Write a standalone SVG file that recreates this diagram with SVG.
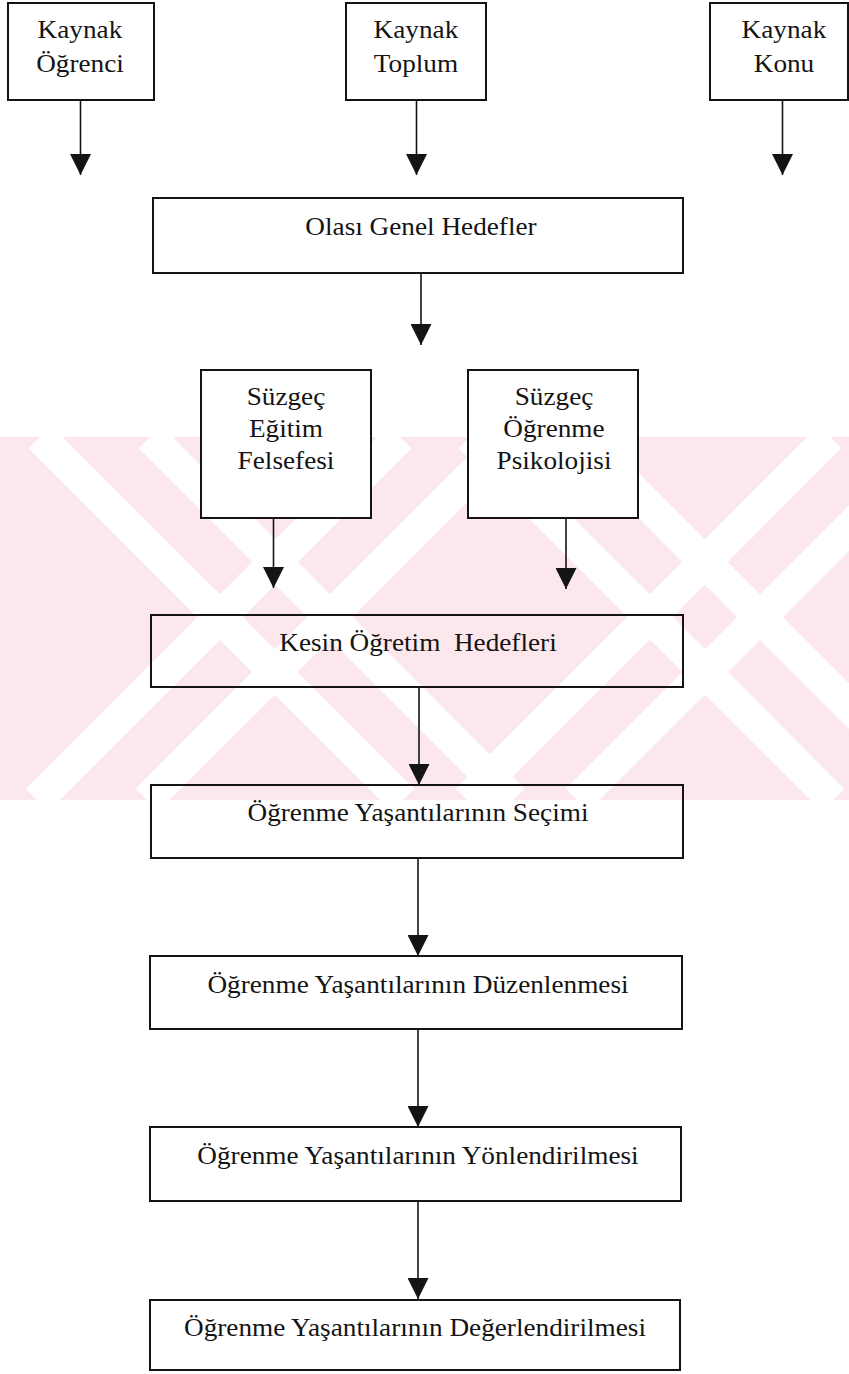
<svg xmlns="http://www.w3.org/2000/svg" width="849" height="1374" viewBox="0 0 849 1374">
  <style>
    .box { fill: none; stroke: #141414; stroke-width: 2; }
    .box.solid { fill: #ffffff; }
    .lbl { font-family: "Liberation Serif", "Times New Roman", serif; font-size: 25px; fill: #141414; text-anchor: middle; white-space: pre; transform: scaleX(1.09); transform-box: fill-box; transform-origin: center; }
    .edge { stroke: #141414; stroke-width: 1.6; fill: none; marker-end: url(#ah); }
    .wm { fill: #fce8ec; }
    .gap { stroke: #ffffff; stroke-width: 32; fill: none; }
  </style>
  <defs>
    <marker id="ah" viewBox="0 0 21 21" markerWidth="21" markerHeight="21" refX="21" refY="10.5" orient="auto" markerUnits="userSpaceOnUse">
      <path d="M0,0 L21,10.5 L0,21 Z" fill="#141414"/>
    </marker>
    <clipPath id="band">
      <rect x="0" y="437" width="849" height="363"/>
    </clipPath>
  </defs>

  <rect width="849" height="1374" fill="#ffffff"/>

  <!-- faint background mark: pink band crossed by white diagonal gaps -->
  <g id="backdrop" clip-path="url(#band)">
    <rect class="wm" x="0" y="437" width="849" height="363"/>
    <path class="gap" d="M40,437 L403,800 M150,437 L513,800 M400,437 L37,800 M510,437 L147,800 M470,437 L833,800 M580,437 L943,800 M830,437 L467,800 M940,437 L577,800"/>
  </g>

  <g id="connectors">
    <line class="edge" x1="80.5" y1="100" x2="80.5" y2="175"/>
    <line class="edge" x1="416.5" y1="100" x2="416.5" y2="175"/>
    <line class="edge" x1="782.5" y1="100" x2="782.5" y2="175"/>
    <line class="edge" x1="421" y1="273" x2="421" y2="345"/>
    <line class="edge" x1="273.5" y1="518" x2="273.5" y2="588"/>
    <line class="edge" x1="566" y1="518" x2="566" y2="589"/>
    <line class="edge" x1="419" y1="687" x2="419" y2="785"/>
    <line class="edge" x1="418" y1="858" x2="418" y2="956"/>
    <line class="edge" x1="418" y1="1029" x2="418" y2="1127"/>
    <line class="edge" x1="418" y1="1201" x2="418" y2="1299"/>
  </g>

  <g id="kaynak-ogrenci">
    <rect class="box" x="8" y="3" width="146" height="97"/>
    <text class="lbl" x="80" y="38">Kaynak</text>
    <text class="lbl" x="80" y="72">Öğrenci</text>
  </g>
  <g id="kaynak-toplum">
    <rect class="box" x="346" y="3" width="140" height="97"/>
    <text class="lbl" x="416" y="38">Kaynak</text>
    <text class="lbl" x="416" y="72">Toplum</text>
  </g>
  <g id="kaynak-konu">
    <rect class="box" x="710" y="3" width="138" height="97"/>
    <text class="lbl" x="784" y="38">Kaynak</text>
    <text class="lbl" x="784" y="72">Konu</text>
  </g>

  <g id="olasi-genel-hedefler">
    <rect class="box" x="153" y="198" width="530" height="75"/>
    <text class="lbl" x="421" y="235">Olası Genel Hedefler</text>
  </g>

  <g id="suzgec-egitim-felsefesi">
    <rect class="box solid" x="201" y="370" width="170" height="148"/>
    <text class="lbl" x="286" y="405">Süzgeç</text>
    <text class="lbl" x="286" y="437">Eğitim</text>
    <text class="lbl" x="286" y="469">Felsefesi</text>
  </g>
  <g id="suzgec-ogrenme-psikolojisi">
    <rect class="box solid" x="468" y="370" width="170" height="148"/>
    <text class="lbl" x="554" y="405">Süzgeç</text>
    <text class="lbl" x="554" y="437">Öğrenme</text>
    <text class="lbl" x="554" y="469">Psikolojisi</text>
  </g>

  <g id="kesin-ogretim-hedefleri">
    <rect class="box" x="151" y="615" width="532" height="72"/>
    <text class="lbl" x="418" y="651">Kesin Öğretim  Hedefleri</text>
  </g>

  <g id="yasantilarin-secimi">
    <rect class="box" x="151" y="785" width="532" height="73"/>
    <text class="lbl" x="418" y="821">Öğrenme Yaşantılarının Seçimi</text>
  </g>

  <g id="yasantilarin-duzenlenmesi">
    <rect class="box" x="150" y="956" width="532" height="73"/>
    <text class="lbl" x="418" y="993">Öğrenme Yaşantılarının Düzenlenmesi</text>
  </g>

  <g id="yasantilarin-yonlendirilmesi">
    <rect class="box" x="150" y="1127" width="531" height="74"/>
    <text class="lbl" x="418" y="1164">Öğrenme Yaşantılarının Yönlendirilmesi</text>
  </g>

  <g id="yasantilarin-degerlendirilmesi">
    <rect class="box" x="150" y="1300" width="530" height="70"/>
    <text class="lbl" x="415" y="1336">Öğrenme Yaşantılarının Değerlendirilmesi</text>
  </g>
</svg>
